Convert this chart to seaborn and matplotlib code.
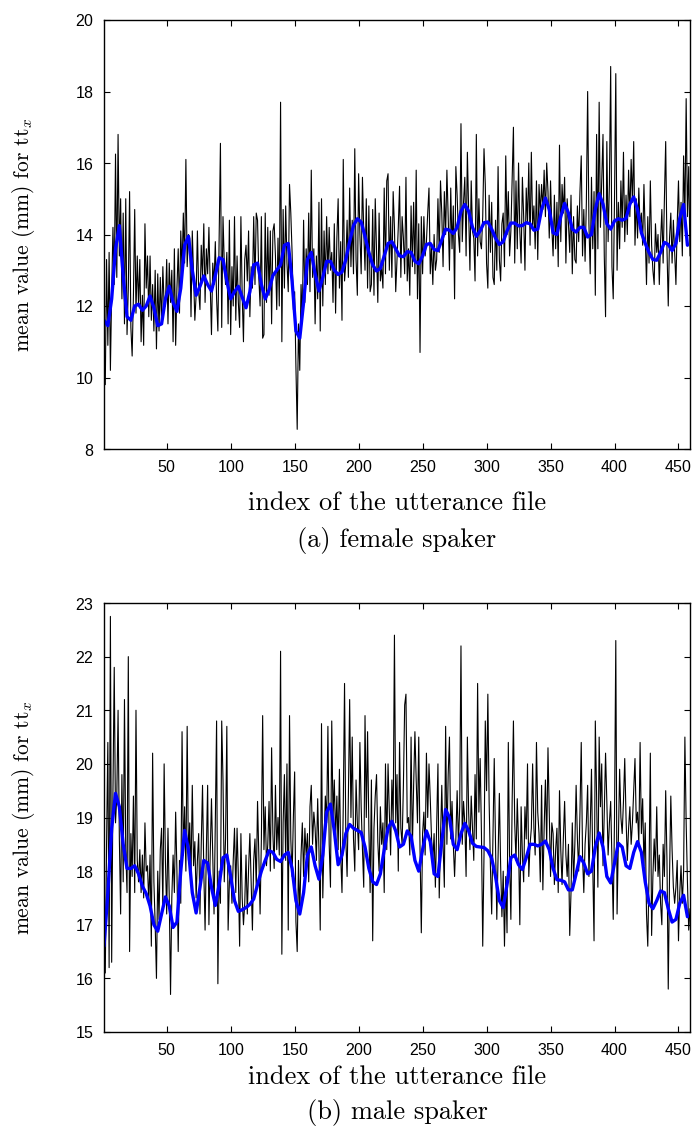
import numpy as np
import matplotlib
matplotlib.use("Agg")
import matplotlib.pyplot as plt
import seaborn as sns

# ---------------- data ----------------
female_raw = [
 10.0, 9.8, 13.3, 10.9, 13.5, 10.2, 12.4, 14.2, 12.6, 16.25,
 12.8, 16.8, 13.4, 15.0, 12.2, 14.6, 11.5, 15.0, 11.2, 12.5,
 15.2, 11.4, 10.6, 12.3, 14.7, 11.8, 13.4, 12.0, 13.3, 11.0,
 12.3, 10.9, 14.3, 12.5, 13.4, 11.7, 13.4, 11.6, 12.6, 11.3,
 13.0, 10.8, 12.9, 11.3, 12.8, 11.5, 13.1, 12.0, 12.0, 13.3,
 11.5, 13.2, 12.1, 13.0, 11.0, 13.6, 10.9, 12.5, 13.6, 11.8,
 14.1, 13.0, 14.6, 13.2, 16.1, 13.1, 14.0, 13.9, 11.7, 14.1,
 12.8, 11.6, 12.3, 14.1, 12.4, 11.9, 13.7, 12.8, 14.3, 12.1,
 13.6, 12.9, 14.2, 12.6, 11.2, 13.2, 12.6, 13.8, 12.2, 11.3,
 13.9, 16.55, 11.4, 14.5, 13.2, 12.6, 13.5, 11.5, 14.4, 11.2,
 13.1, 12.0, 14.5, 11.6, 13.4, 12.1, 11.4, 14.5, 12.3, 11.0,
 13.3, 13.7, 12.7, 14.1, 11.7, 13.1, 12.5, 14.5, 12.6, 14.6,
 14.4, 12.8, 12.0, 14.5, 11.1, 11.2, 14.6, 12.1, 14.2, 12.3,
 14.1, 11.5, 14.1, 14.3, 13.4, 11.9, 13.9, 12.0, 17.7, 11.0,
 14.7, 12.5, 14.8, 13.2, 12.4, 15.4, 14.6, 13.5, 11.9, 12.4,
 10.3, 8.55, 11.5, 10.2, 12.6, 11.6, 14.4, 12.1, 13.6, 12.6,
 14.6, 12.4, 15.8, 12.8, 13.6, 11.5, 13.4, 12.2, 14.9, 11.3,
 15.0, 12.0, 14.1, 12.6, 14.5, 12.9, 14.2, 13.0, 13.5, 12.1,
 14.3, 11.8, 13.9, 15.0, 12.5, 13.8, 11.6, 16.1, 12.7, 13.2,
 14.4, 12.8, 15.3, 13.1, 14.4, 12.9, 16.4, 13.3, 12.3, 15.7,
 14.0, 12.9, 15.6, 14.1, 13.0, 15.0, 12.5, 14.8, 12.4, 12.6,
 14.7, 12.3, 15.0, 13.5, 12.1, 14.6, 12.7, 13.1, 12.5, 15.3,
 12.9, 15.5, 15.7, 13.0, 14.5, 12.8, 15.2, 14.2, 12.4, 13.3,
 14.2, 15.35, 12.8, 14.5, 13.9, 12.9, 15.6, 12.7, 13.6, 12.3,
 14.8, 13.1, 14.9, 12.9, 15.8, 12.2, 14.3, 10.7, 14.5, 12.9,
 14.5, 13.4, 13.8, 14.6, 15.3, 12.9, 13.7, 12.6, 14.0, 13.0,
 13.3, 15.0, 13.5, 15.5, 14.6, 13.1, 15.2, 14.0, 15.8, 14.5,
 13.0, 15.3, 13.6, 14.8, 12.2, 15.9, 15.1, 14.0, 13.5, 17.1,
 13.8, 14.9, 15.6, 13.4, 16.3, 14.7, 13.0, 15.5, 14.1, 13.9,
 12.7, 16.8, 13.4, 15.0, 13.8, 13.6, 14.5, 16.4, 15.4, 13.2,
 12.5, 15.1, 13.5, 14.9, 12.8, 12.6, 14.4, 13.0, 15.9, 13.3,
 12.7, 14.3, 14.6, 13.1, 16.2, 14.0, 15.2, 13.4, 14.1, 15.6,
 17.0, 13.2, 15.5, 13.6, 16.0, 14.1, 13.2, 15.6, 14.5, 13.0,
 15.3, 14.3, 16.0, 13.7, 16.3, 14.2, 14.8, 13.6, 15.5, 13.3,
 15.4, 14.6, 15.4, 14.7, 15.8, 14.5, 16.0, 15.2, 13.9, 15.5,
 14.2, 13.4, 15.1, 13.6, 14.9, 13.1, 16.5, 13.8, 15.4, 14.6,
 15.6, 13.2, 15.0, 14.3, 13.5, 15.1, 12.9, 14.5, 13.3, 13.2,
 14.8, 13.8, 15.2, 16.2, 13.4, 14.7, 13.25, 14.9, 18.0, 14.3,
 12.9, 15.6, 13.6, 15.2, 12.3, 16.8, 13.6, 17.7, 14.2, 15.5,
 16.8, 13.4, 11.7, 16.6, 13.8, 15.4, 18.7, 13.1, 12.2, 15.0,
 18.5, 13.0, 14.9, 13.6, 15.5, 14.2, 16.3, 13.8, 15.1, 14.0,
 15.8, 14.5, 16.1, 14.9, 16.6, 13.7, 15.0, 13.9, 15.3, 14.2,
 14.6, 13.7, 15.4, 14.0, 12.6, 14.5, 13.2, 15.5, 13.7, 13.0,
 12.6, 14.3, 13.5, 14.0, 12.6, 13.8, 14.7, 13.2, 15.0, 16.6,
 13.6, 12.0, 13.9, 14.6, 13.2, 14.4, 13.5, 12.6, 14.3, 15.5,
 13.8, 14.9, 13.4, 16.2, 14.4, 17.8, 14.5, 15.9, 13.4,
]

female_smooth = [
 11.6, 11.45, 12.2, 13.6, 14.25, 12.85, 11.7, 11.6, 12.0, 12.05,
 11.88, 12.0, 12.28, 11.95, 11.45, 11.5, 12.2, 12.55, 12.1, 11.85,
 12.5, 13.7, 13.95, 13.0, 12.3, 12.55, 12.84, 12.6, 12.42, 12.85,
 13.35, 13.3, 12.7, 12.2, 12.4, 12.55, 12.25, 11.95, 12.4, 13.15,
 13.2, 12.6, 12.2, 12.45, 12.85, 13.0, 13.15, 13.7, 13.75, 12.7,
 11.3, 11.1, 12.1, 13.3, 13.5, 12.9, 12.42, 12.8, 13.25, 13.25,
 13.0, 12.88, 12.95, 13.3, 13.8, 14.25, 14.44, 14.35, 13.95, 13.5,
 13.15, 12.98, 13.05, 13.4, 13.75, 13.8, 13.6, 13.4, 13.38, 13.52,
 13.5, 13.25, 13.18, 13.4, 13.72, 13.75, 13.58, 13.55, 13.85, 14.15,
 14.12, 14.03, 14.2, 14.65, 14.84, 14.65, 14.2, 13.95, 14.1, 14.33,
 14.35, 14.15, 13.9, 13.72, 13.8, 14.1, 14.32, 14.32, 14.24, 14.25,
 14.33, 14.3, 14.12, 14.15, 14.7, 15.02, 14.7, 14.05, 14.0, 14.5,
 14.87, 14.6, 14.15, 14.07, 14.2, 14.2, 13.93, 14.0, 14.7, 15.14,
 14.85, 14.3, 14.15, 14.38, 14.44, 14.4, 14.45, 14.85, 15.05, 14.7,
 14.05, 13.75, 13.5, 13.3, 13.28, 13.5, 13.78, 13.72, 13.55, 13.75,
 14.45, 14.84, 13.7,
]

male_raw = [
 17.0, 16.1, 18.5, 20.4, 16.2, 22.75, 16.3, 19.5, 21.8, 18.9,
 19.4, 21.0, 18.6, 17.2, 19.8, 17.8, 21.2, 18.4, 17.6, 22.0,
 16.5, 18.7, 17.9, 19.4, 17.6, 21.0, 18.2, 17.8, 18.4, 17.6,
 18.3, 17.5, 18.9, 18.0, 18.1, 17.4, 18.3, 16.6, 20.2, 17.8,
 17.0, 16.0, 18.0, 17.1, 18.4, 18.8, 17.3, 20.0, 18.2, 17.2,
 18.8, 17.5, 15.7, 17.5, 18.3, 17.6, 19.1, 18.0, 16.5, 18.2,
 17.4, 20.6, 18.3, 19.2, 18.0, 20.7, 18.2, 18.9, 17.9, 19.6,
 18.1, 18.55, 17.5, 18.2, 18.7, 17.2, 18.5, 19.6, 18.0, 16.9,
 18.4, 19.6, 17.0, 18.3, 19.35, 18.3, 17.2, 18.9, 20.8, 15.9,
 18.0, 17.4, 20.8, 19.7, 17.8, 18.6, 20.7, 16.9, 17.8, 18.1,
 17.4, 18.2, 18.8, 17.6, 18.8, 17.9, 16.6, 18.7, 17.5, 17.0,
 17.4, 18.3, 17.2, 18.05, 18.7, 17.8, 16.9, 18.2, 18.6, 17.7,
 19.3, 18.3, 17.2, 18.6, 20.9, 18.4, 19.2, 18.1, 18.5, 19.3,
 18.0, 20.3, 18.7, 18.05, 19.6, 18.4, 19.0, 18.3, 22.1, 16.45,
 18.9, 19.8, 18.2, 20.0, 16.9, 20.9, 18.6, 17.9, 19.0, 19.85,
 17.06, 16.5, 18.2, 17.2, 18.3, 18.9, 17.9, 18.8, 18.3, 18.7,
 17.8, 19.2, 19.6, 18.5, 19.1, 18.8, 18.2, 19.35, 18.4, 16.9,
 20.75, 17.5, 18.6, 19.4, 18.9, 20.7, 18.5, 17.7, 20.8, 19.0,
 19.7, 18.6, 19.4, 18.4, 19.9, 18.3, 17.6, 19.2, 21.5, 18.6,
 17.9, 19.4, 21.2, 19.0, 20.5, 18.6, 18.0, 19.7, 18.9, 18.4,
 20.4, 19.2, 18.4, 17.7, 20.9, 19.0, 20.6, 18.8, 17.6, 19.7,
 16.7, 18.8, 19.4, 19.8, 18.55, 18.0, 19.2, 18.5, 18.9, 17.6,
 20.0, 18.4, 20.0, 19.1, 18.3, 19.7, 18.9, 22.4, 18.9, 19.8,
 18.0, 20.4, 18.8, 18.5, 19.6, 21.1, 21.3, 18.9, 19.0, 18.3,
 20.5, 18.4, 19.6, 20.6, 19.7, 18.9, 20.5, 18.4, 16.85, 18.7,
 19.1, 18.3, 20.2, 19.0, 20.0, 19.35, 18.6, 18.2, 18.7, 17.7,
 18.9, 20.0, 17.5, 18.6, 19.6, 18.5, 17.7, 20.7, 18.5, 19.8,
 20.5, 18.6, 19.3, 18.5, 17.9, 18.6, 19.5, 18.5, 19.2, 22.2,
 18.5, 19.3, 18.9, 17.9, 20.5, 19.1, 18.4, 19.4, 18.8, 18.2,
 19.8, 18.6, 21.5, 19.1, 20.1, 18.7, 16.6, 18.3, 20.8, 19.5,
 21.3, 19.3, 18.1, 17.2, 18.6, 20.1, 18.5, 17.1, 18.3, 19.45,
 18.1, 17.15, 18.0, 16.6, 17.9, 16.85, 20.4, 18.2, 17.1, 19.3,
 20.8, 18.9, 18.2, 19.35, 18.5, 17.0, 19.2, 18.3, 17.8, 19.2,
 18.6, 20.0, 17.9, 18.5, 18.8, 20.0, 18.8, 18.3, 20.4, 19.1,
 18.7, 17.8, 19.6, 17.65, 18.8, 19.7, 18.5, 20.3, 19.1, 17.9,
 18.9, 18.7, 17.75, 18.4, 18.8, 17.6, 19.5, 18.4, 17.75, 18.6,
 19.3, 18.3, 17.9, 18.5, 16.8, 17.6, 18.9, 17.8, 18.5, 19.6,
 18.6, 18.0, 19.1, 20.4, 18.3, 17.6, 18.5, 18.9, 19.6, 17.9,
 18.8, 19.9, 18.1, 16.7, 20.8, 19.4, 17.7, 20.5, 19.2, 20.0,
 18.1, 19.1, 20.2, 19.3, 18.3, 18.9, 19.3, 18.2, 17.1, 19.0,
 22.3, 17.2, 18.6, 19.9, 19.0, 18.7, 19.3, 20.1, 19.0, 18.2,
 18.8, 19.2, 18.5, 18.9, 19.5, 20.1, 18.9, 19.1, 18.5, 20.4,
 18.7, 19.35, 18.1, 18.9, 17.2, 16.6, 18.0, 20.2, 16.8, 17.9,
 18.6, 18.0, 19.2, 17.9, 18.3, 17.4, 17.0, 18.5, 17.9, 19.5,
 18.2, 15.8, 17.9, 19.4, 18.4, 17.7, 17.4, 17.7, 18.2, 16.7,
 17.6, 18.1, 17.4, 18.0, 20.5, 18.9, 17.8, 16.9, 17.3,
]

male_smooth = [
 16.6, 17.6, 18.8, 19.45, 19.2, 18.5, 18.05, 18.05, 18.1, 17.95,
 17.72, 17.58, 17.35, 17.0, 16.88, 17.2, 17.52, 17.35, 16.95, 17.05,
 18.0, 18.76, 18.4, 17.6, 17.22, 17.7, 18.2, 18.15, 17.7, 17.36,
 17.75, 18.25, 18.3, 17.9, 17.45, 17.25, 17.28, 17.32, 17.38, 17.48,
 17.75, 18.0, 18.2, 18.38, 18.35, 18.22, 18.18, 18.3, 18.35, 18.05,
 17.45, 17.2, 17.6, 18.3, 18.45, 18.1, 17.85, 18.3, 19.1, 19.25,
 18.75, 18.12, 18.3, 18.7, 18.87, 18.8, 18.76, 18.72, 18.45, 18.05,
 17.8, 17.75, 17.95, 18.4, 18.8, 18.93, 18.75, 18.45, 18.5, 18.75,
 18.65, 18.2, 18.0, 18.4, 18.75, 18.55, 17.95, 17.9, 18.55, 19.15,
 19.0, 18.5, 18.4, 18.7, 18.89, 18.75, 18.52, 18.46, 18.45, 18.44,
 18.38, 18.24, 17.9, 17.45, 17.32, 17.75, 18.25, 18.3, 18.12, 18.03,
 18.25, 18.5, 18.5, 18.47, 18.5, 18.56, 18.4, 18.05, 17.84, 17.83,
 17.8, 17.65, 17.65, 17.95, 18.27, 18.15, 17.95, 18.0, 18.45, 18.71,
 18.45, 17.9, 17.78, 18.15, 18.52, 18.45, 18.1, 18.05, 18.35, 18.55,
 18.35, 17.8, 17.4, 17.3, 17.45, 17.63, 17.6, 17.3, 17.05, 17.1,
 17.4, 17.55, 17.15,
]

x_ticks = [50, 100, 150, 200, 250, 300, 350, 400, 450]
female_yticks = [8, 10, 12, 14, 16, 18, 20]
male_yticks = [15, 16, 17, 18, 19, 20, 21, 22, 23]
ylabel_text = r"mean value (mm) for $\mathrm{tt}_x$"
xlabel_text = "index of the utterance file"
captions = ["(a) female spaker", "(b) male spaker"]

# ---------------- style ----------------
sns.set_theme(style="ticks")
plt.rcParams["font.family"] = ["Liberation Sans", "DejaVu Sans"]
plt.rcParams["mathtext.fontset"] = "cm"
plt.rcParams["axes.formatter.use_mathtext"] = True
for k in ["text.color", "axes.labelcolor", "xtick.color", "ytick.color",
          "axes.edgecolor"]:
    plt.rcParams[k] = "black"

fig = plt.figure(figsize=(6.94, 11.38), dpi=100)
W, H = 694, 1138
panels = [
    dict(raw=female_raw, smooth=female_smooth, yticks=female_yticks,
         ylim=(8, 20), box=(104, 20, 690, 449), cap=captions[0],
         xl_y=503, cap_y=540),
    dict(raw=male_raw, smooth=male_smooth, yticks=male_yticks,
         ylim=(15, 23), box=(104, 603, 690, 1032), cap=captions[1],
         xl_y=1077, cap_y=1113),
]

serif = "cmr10"
for p in panels:
    x0, y0, x1, y1 = p["box"]
    aw, ah = x1 - x0, y1 - y0
    ax = fig.add_axes([x0 / W, 1 - y1 / H, aw / W, ah / H])
    raw = np.asarray(p["raw"])
    sm = np.asarray(p["smooth"])
    idx_raw = np.arange(1, len(raw) + 1)
    idx_sm = np.arange(1, 1 + 3 * len(sm), 3)
    sns.lineplot(x=idx_raw, y=raw, ax=ax, color="black", lw=0.8, estimator=None)
    sns.lineplot(x=idx_sm, y=sm, ax=ax, color="#0000ff", lw=2.4, estimator=None)
    ax.set_xlim(1, 459)
    ax.set_ylim(*p["ylim"])
    ax.set_xticks(x_ticks)
    ax.set_yticks(p["yticks"])
    ax.tick_params(direction="in", length=4, width=0.8, top=True, right=True,
                   labelsize=11.5, colors="black", pad=7)
    for s in ax.spines.values():
        s.set_linewidth(1.0)
        s.set_color("black")
    ax.set_xlabel(xlabel_text, fontsize=19, fontname=serif, va="center")
    ax.set_ylabel(ylabel_text, fontsize=15.5, fontname=serif, va="center")
    ax.xaxis.set_label_coords(0.5, -(p["xl_y"] - y1) / ah)
    ax.yaxis.set_label_coords(-(x0 - 24) / aw, 0.5)
    ax.grid(False)
    fig.text((x0 + x1) / 2 / W, 1 - p["cap_y"] / H, p["cap"], ha="center",
             va="center", fontsize=19, fontname=serif)

fig.savefig("out.png", dpi=100)
